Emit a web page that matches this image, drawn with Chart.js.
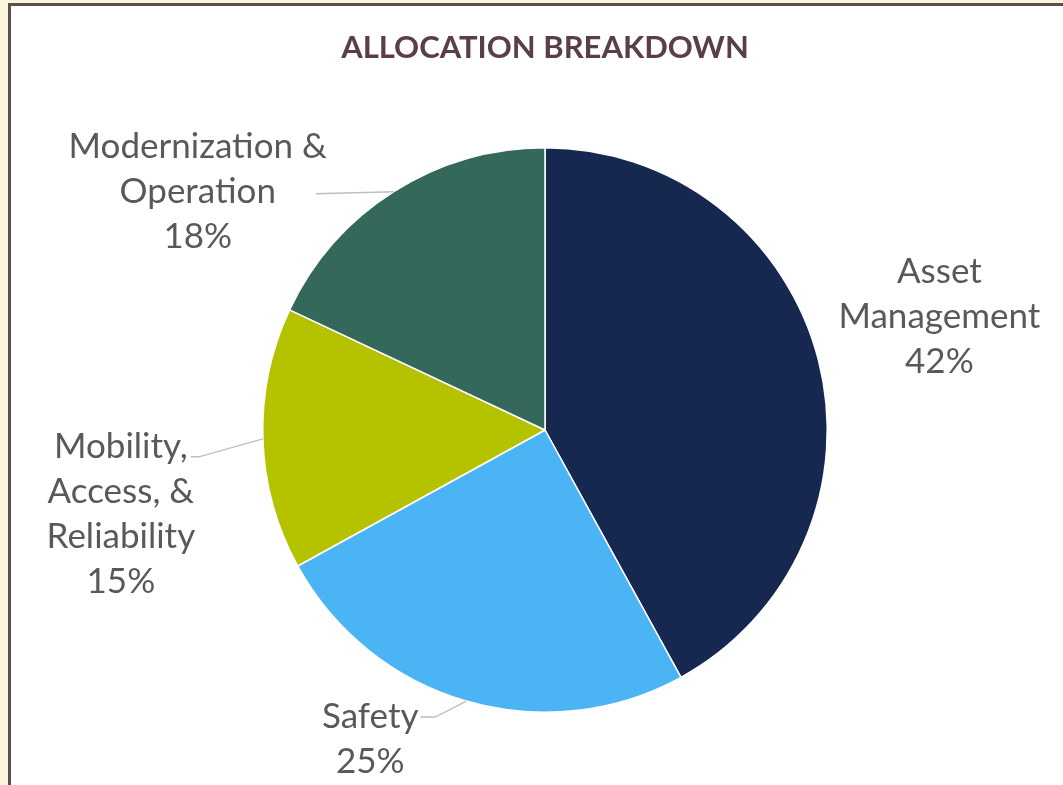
<!DOCTYPE html>
<html>
<head>
<meta charset="utf-8">
<script src="https://cdn.jsdelivr.net/npm/chart.js@4"></script>
<style>
  html, body { margin: 0; padding: 0; background: #fbf5dc; overflow: hidden; }
  #frame {
    position: absolute; left: 8px; top: 3px; width: 1200px; height: 900px;
    border: 3px solid #5f4b52; background: #ffffff;
  }
  #wrap { position: absolute; left: 0; top: 0; width: 1063px; height: 785px; }
</style>
</head>
<body>
<div id="frame"></div>
<div id="wrap"><canvas id="grafico" width="1063" height="785"></canvas></div>
<script>
const titolo = "ALLOCATION BREAKDOWN";
const categorie = [
  ["Asset", "Management"],
  ["Safety"],
  ["Mobility,", "Access, &", "Reliability"],
  ["Modernization &", "Operation"],
];
const valori = [42, 25, 15, 18];
const colori = ["#16284f", "#4bb4f4", "#b5c200", "#33685b"];

// label placement relative to the arc's outer mid point (dx, dy),
// leader points relative to label centre
const posEtichette = [
  { dx: 121, dy: -43, leader: null },
  { dx: -96, dy: 38, leader: [[65, -22], [50, -22]] },
  { dx: -142, dy: 75, leader: [[78, -57], [70, -57]] },
  { dx: -196, dy: 0, leader: [[118, 2], [118, 2]] },
];

const fontEtichette = "35px Lato, 'Open Sans', sans-serif";
const lineHeight = 45;

const etichettePlugin = {
  id: "etichette",
  afterDraw(chart) {
    const ctx = chart.ctx;
    const meta = chart.getDatasetMeta(0);
    const totale = valori.reduce((a, b) => a + b, 0);

    ctx.save();
    ctx.fillStyle = "#5a4046";
    ctx.font = "bold 31px Lato, 'Open Sans', sans-serif";
    ctx.textAlign = "center";
    ctx.textBaseline = "middle";
    ctx.fillText(titolo, (chart.chartArea.left + chart.chartArea.right) / 2, 48);

    meta.data.forEach((arc, i) => {
      const p = arc.getProps(["x", "y", "startAngle", "endAngle", "outerRadius"], true);
      const mid = (p.startAngle + p.endAngle) / 2;
      const ex = p.x + Math.cos(mid) * p.outerRadius;
      const ey = p.y + Math.sin(mid) * p.outerRadius;
      const pos = posEtichette[i];
      const cx = ex + pos.dx;
      const cy = ey + pos.dy;

      if (pos.leader) {
        ctx.strokeStyle = "#bfbfbf";
        ctx.lineWidth = 1.5;
        ctx.beginPath();
        ctx.moveTo(ex, ey);
        pos.leader.forEach(([lx, ly]) => ctx.lineTo(cx + lx, cy + ly));
        ctx.stroke();
      }

      const righe = categorie[i].concat([Math.round((valori[i] / totale) * 100) + "%"]);
      ctx.fillStyle = "#595959";
      ctx.font = fontEtichette;
      const y0 = cy - ((righe.length - 1) * lineHeight) / 2;
      righe.forEach((r, k) => ctx.fillText(r, cx, y0 + k * lineHeight));
    });
    ctx.restore();
  },
};

const ctx = document.getElementById("grafico").getContext("2d");
const myChart = new Chart(ctx, {
  type: "pie",
  data: {
    labels: categorie,
    datasets: [
      {
        data: valori,
        backgroundColor: colori,
        borderColor: "#ffffff",
        borderWidth: 1.5,
      },
    ],
  },
  options: {
    responsive: false,
    animation: false,
    layout: { padding: { left: 262, right: 235, top: 147, bottom: 72 } },
    plugins: {
      legend: { display: false },
      title: { display: false },
      tooltip: { enabled: false },
    },
  },
  plugins: [etichettePlugin],
});
</script>
</body>
</html>
